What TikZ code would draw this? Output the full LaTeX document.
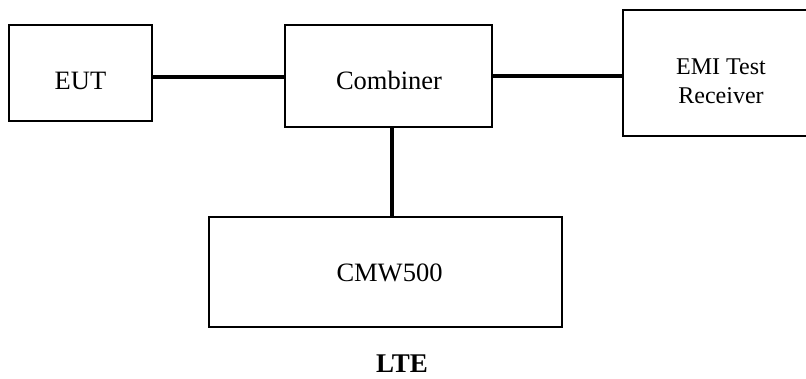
\documentclass[tikz,border=0pt]{standalone}
\usepackage{fontspec}
\setmainfont{Liberation Serif}
\begin{document}
\begin{tikzpicture}[x=1pt,y=-1pt,
  box/.style={draw=black,line width=1.5pt,rectangle,inner sep=0pt,fill=white},
  lbl/.style={inner sep=0pt,anchor=base,font=\fontsize{26.5}{30}\selectfont},
  lbls/.style={inner sep=0pt,anchor=base,font=\fontsize{24}{30}\selectfont},
  wire/.style={line width=3.2pt}]
\clip (0,0) rectangle (806,378);
\useasboundingbox (0,0) rectangle (806,378);
% boxes
\node[box,minimum width=143pt,minimum height=96pt] (eut) at (80.5,73) {};
\node[box,minimum width=207pt,minimum height=102pt] (comb) at (388.5,76) {};
\node[box,minimum width=196pt,minimum height=126pt] (emi) at (721,73) {};
\node[box,minimum width=353pt,minimum height=110pt] (cmw) at (385.5,272) {};
% texts
\node[lbl] (eutt) at (80.5,89.3) {EUT};
\node[lbl] (combt) at (389,89.3) {Combiner};
\node[lbls] (emit) at (721,74) {EMI Test};
\node[lbls] (emit2) at (721,103) {Receiver};
\node[lbl] (cmwt) at (389.5,281) {CMW500};
\node[inner sep=0pt,anchor=base,font=\bfseries\fontsize{27}{30}\selectfont] (lte) at (402,372.5) {LTE};
% connectors
\draw[wire] (eut.east |- 0,77) -- (comb.west |- 0,77);
\draw[wire] (comb.east |- 0,76) -- (emi.west |- 0,76);
\draw[wire] (392,0 |- comb.south) -- (392,0 |- cmw.north);
\end{tikzpicture}
\end{document}
